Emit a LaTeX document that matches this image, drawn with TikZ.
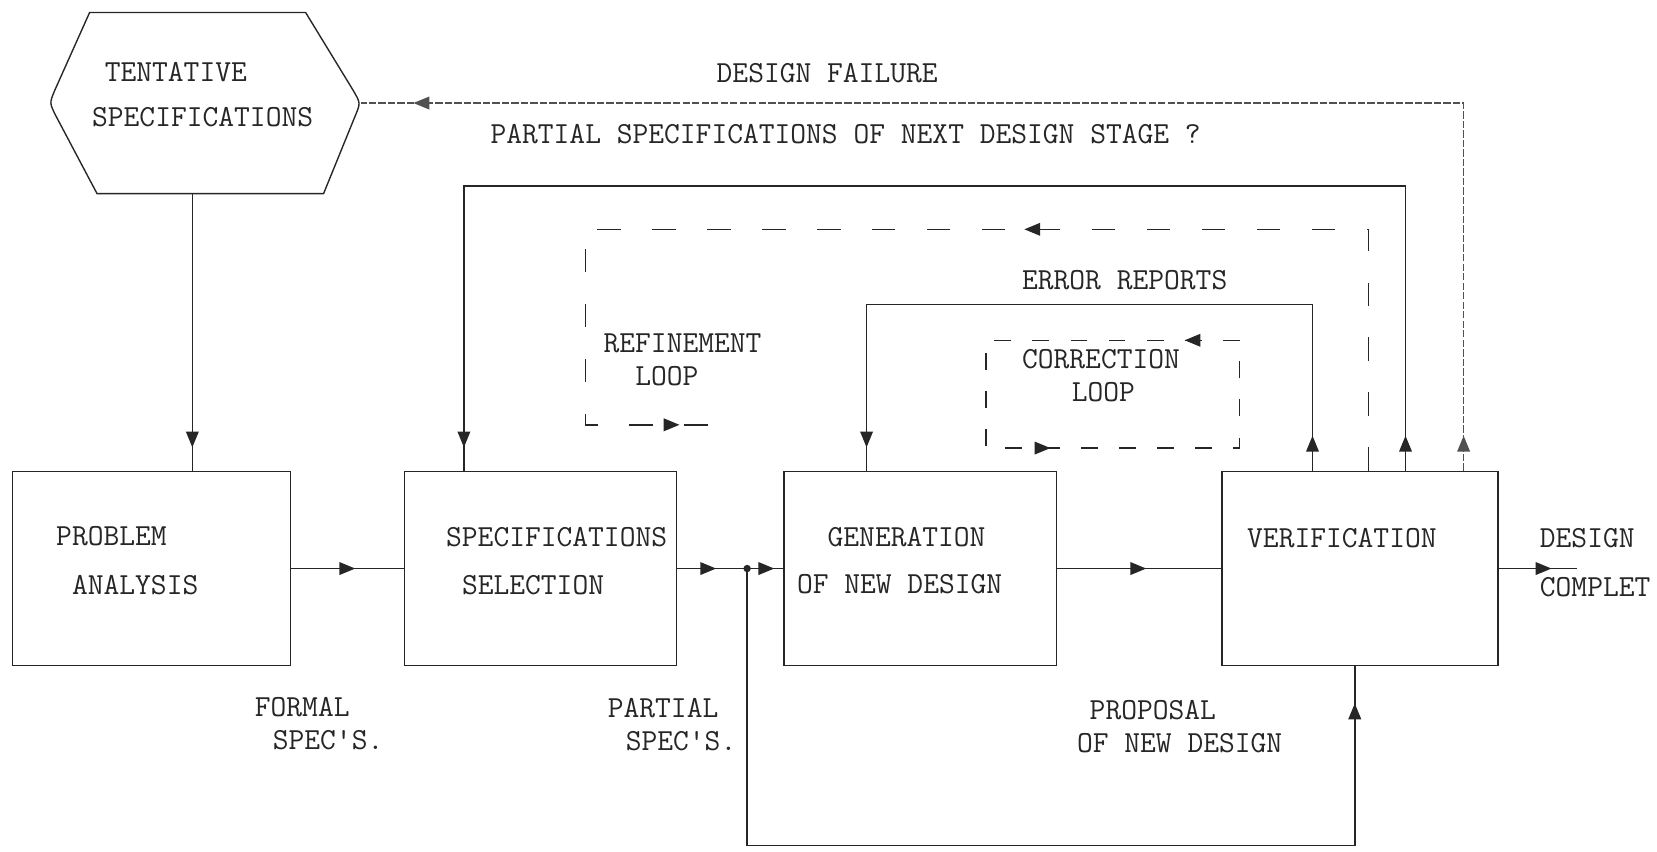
\documentclass[tikz,border=0pt]{standalone}
\usetikzlibrary{arrows.meta,decorations.markings}
\definecolor{ink}{HTML}{262626}
\begin{document}
\begin{tikzpicture}[x=1pt,y=-1pt,
  tw/.style={font=\fontsize{29}{34}\selectfont\ttfamily, text=ink, anchor=west, inner sep=0pt},
  box/.style={draw=ink, line width=1.3pt, minimum width=#1, minimum height=184pt, inner sep=0pt},
  conn/.style={draw=ink, line width=1.4pt},
  faint/.style={draw=ink!80, line width=1.2pt, dash pattern=on 7pt off 2pt},
  loopline/.style={draw=ink, line width=1.4pt, dash pattern=on 22pt off 30pt},
  tipA/.style={postaction={decorate}, decoration={markings, mark=at position #1 with {\arrow{Triangle[length=15pt,width=12pt]}}}},
  tipB/.style 2 args={postaction={decorate}, decoration={markings,
      mark=at position #1 with {\arrow{Triangle[length=15pt,width=12pt]}},
      mark=at position #2 with {\arrow{Triangle[length=15pt,width=12pt]}}}},
]
\fill[white] (0,0) rectangle (1568,806);
\useasboundingbox (0,0) rectangle (1568,806);

% tentative specifications
\node[minimum width=294pt, minimum height=171pt, inner sep=0pt] (hex) at (194,97.5) {};
\draw[draw=ink, line width=1.3pt]
  ([xshift=38pt]hex.north west) -- ([xshift=-52pt]hex.north east)
  -- ([shift={(-7,-12)}]hex.east) .. controls (hex.east) .. ([shift={(-5,12)}]hex.east)
  -- ([xshift=-35pt]hex.south east)
  -- ([xshift=45pt]hex.south west)
  -- ([shift={(6,12)}]hex.west) .. controls (hex.west) .. ([shift={(5,-12)}]hex.west)
  -- cycle;
\node[tw] (tent) at (99,68) {TENTATIVE};
\node[tw] (tspec) at (87,111) {SPECIFICATIONS};

% boxes
\node[box=263pt] (prob) at (143.5,538) {};
\node[box=257pt] (spec) at (511.5,538) {};
\node[box=258pt] (gen) at (871,538) {};
\node[box=261pt] (verif) at (1287,538) {};

\node[tw] (p1) at (53,507) {PROBLEM};
\node[tw] (p2) at (68,554) {ANALYSIS};
\node[tw] (s1) at (422,508) {SPECIFICATIONS};
\node[tw] (s2) at (437,554) {SELECTION};
\node[tw] (g1) at (783,508) {GENERATION};
\node[tw] (g2) at (754,553) {OF NEW DESIGN};
\node[tw] (v1) at (1180,509) {VERIFICATION};

% labels
\node[tw] (dfl) at (678,69) {DESIGN FAILURE};
\node[tw] (psl) at (464,127) {PARTIAL SPECIFICATIONS OF NEXT DESIGN STAGE ?};
\node[tw] (rl1) at (571,325) {REFINEMENT};
\node[tw] (rl2) at (601,356) {LOOP};
\node[tw] (erl) at (967,265) {ERROR REPORTS};
\node[tw] (cl1) at (967,340) {CORRECTION};
\node[tw] (cl2) at (1014,371) {LOOP};
\node[tw] (d1) at (1457,509) {DESIGN};
\node[tw] (d2) at (1457,556) {COMPLET};
\node[tw] (f1) at (241,669) {FORMAL};
\node[tw] (f2) at (258,700) {SPEC'S.};
\node[tw] (pa1) at (575,670) {PARTIAL};
\node[tw] (pa2) at (592,701) {SPEC'S.};
\node[tw] (pr1) at (1031,672) {PROPOSAL};
\node[tw] (pr2) at (1019,703) {OF NEW DESIGN};

% helper coordinates
\coordinate (xa) at (182,0);
\coordinate (j) at (707,538);
\coordinate (out) at (1492,538);
\coordinate (yb) at (0,800);
\coordinate (xp) at (1282,0);
\coordinate (xdf) at (1385,0);
\coordinate (xps) at (1330,0);
\coordinate (yps) at (0,176);
\coordinate (xps2) at (439,0);
\coordinate (xer) at (1242,0);
\coordinate (yer) at (0,288);
\coordinate (xer2) at (820,0);
\coordinate (xrf) at (1295,0);
\coordinate (yrf) at (0,217);
\coordinate (xrf2) at (554,0);
\coordinate (rfend) at (694,402);
\coordinate (c1) at (1173,322);
\coordinate (c2) at (933,424);

% main flow
\draw[conn, tipA=-22pt] (hex.south -| xa) -- (prob.north -| xa);
\draw[conn, tipA=60.5pt] (prob.east) -- (spec.west);
\draw[conn, tipB={37pt}{92pt}] (spec.east) -- (gen.west);
\fill[ink] (j) circle (3.5pt);
\draw[conn, tipA=84pt] (gen.east) -- (verif.west);
\draw[conn, tipA=50pt] (verif.east) -- (out);
\draw[conn, tipA=-35pt] (j) -- (j |- yb) -| (verif.south -| xp);

% feedback
\draw[faint, tipB={33pt}{-50pt}] (verif.north -| xdf) |- (hex.east);
\draw[conn, line width=1.2pt, tipB={33pt}{-22pt}] (verif.north -| xps) -- (xps |- yps) -| (spec.north -| xps2);
\draw[conn, line width=1.2pt, tipB={33pt}{-22pt}] (verif.north -| xer) -- (xer |- yer) -| (gen.north -| xer2);
\draw[loopline, tipB={554pt}{-51pt}] (verif.north -| xrf) -- (xrf |- yrf) -| (xrf2 |- rfend) -- (rfend);
\draw[loopline, dash pattern=on 16pt off 20pt, tipB={52pt}{403pt}] (c1) -- (c1 -| c2) -- (c2) -- (c2 -| c1) -- cycle;
\end{tikzpicture}
\end{document}
